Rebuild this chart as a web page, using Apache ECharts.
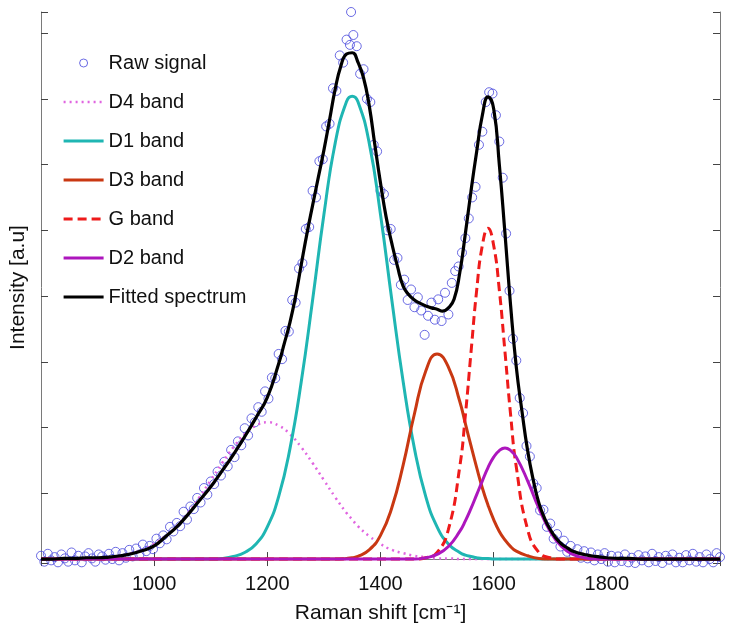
<!DOCTYPE html>
<html>
<head>
<meta charset="utf-8">
<title>Raman spectrum fit</title>
<script src="https://cdn.jsdelivr.net/npm/echarts/dist/echarts.min.js"></script>
<style>
  html, body { margin: 0; padding: 0; background: #fff; }
  #chart { width: 731px; height: 630px; }
</style>
</head>
<body>
<div id="chart"></div>
<script>
// band components (finer grid round the peaks)
var shift = [800, 820, 840, 860, 880, 900, 920, 940, 960, 980,
    1000, 1020, 1040, 1060, 1080, 1100, 1120, 1140, 1160, 1180,
    1200, 1220, 1240, 1260, 1280, 1300, 1320, 1340, 1350, 1360,
    1380, 1400, 1420, 1440, 1460, 1480, 1500, 1520, 1540, 1550,
    1560, 1570, 1580, 1590, 1600, 1610, 1620, 1630, 1640, 1660,
    1680, 1700, 1720, 1740, 1760, 1780, 1800, 1820, 1840, 1860,
    1880, 1900, 1920, 1940, 1960, 1980, 2000];

var d4Band = [0, 0, 0, 0, 0.01, 0.01, 0.03, 0.05, 0.09, 0.14,
    0.23, 0.35, 0.50, 0.70, 0.94, 1.20, 1.46, 1.70, 1.90, 2.03,
    2.08, 2.03, 1.90, 1.70, 1.46, 1.20, 0.94, 0.70, 0.60, 0.50,
    0.35, 0.23, 0.14, 0.09, 0.05, 0.03, 0.01, 0.01, 0, 0,
    0, 0, 0, 0, 0, 0, 0, 0, 0, 0,
    0, 0, 0, 0, 0, 0, 0, 0, 0, 0,
    0, 0, 0, 0, 0, 0, 0];

var d1Band = [0, 0, 0, 0, 0, 0, 0, 0, 0, 0,
    0, 0, 0, 0, 0, 0, 0.01, 0.04, 0.10, 0.23,
    0.49, 0.95, 1.68, 2.70, 3.94, 5.24, 6.33, 6.96, 7.04, 6.96,
    6.33, 5.24, 3.94, 2.70, 1.68, 0.95, 0.49, 0.23, 0.10, 0.06,
    0.04, 0.02, 0.01, 0.01, 0, 0, 0, 0, 0, 0,
    0, 0, 0, 0, 0, 0, 0, 0, 0, 0,
    0, 0, 0, 0, 0, 0, 0];

var d3Band = [0, 0, 0, 0, 0, 0, 0, 0, 0, 0,
    0, 0, 0, 0, 0, 0, 0, 0, 0, 0,
    0, 0, 0, 0, 0, 0, 0, 0.01, 0.02, 0.04,
    0.14, 0.36, 0.78, 1.43, 2.21, 2.86, 3.12, 2.92, 2.40, 2.06,
    1.72, 1.39, 1.08, 0.82, 0.60, 0.42, 0.29, 0.19, 0.12, 0.05,
    0.01, 0, 0, 0, 0, 0, 0, 0, 0, 0,
    0, 0, 0, 0, 0, 0, 0];

var gBand = [0, 0, 0, 0, 0, 0, 0, 0, 0, 0,
    0, 0, 0, 0, 0, 0, 0, 0, 0, 0,
    0, 0, 0, 0, 0, 0, 0, 0, 0, 0,
    0, 0, 0, 0, 0, 0.02, 0.10, 0.45, 1.40, 2.19,
    3.15, 4.09, 4.77, 5.03, 4.77, 4.09, 3.15, 2.19, 1.40, 0.45,
    0.10, 0.02, 0, 0, 0, 0, 0, 0, 0, 0,
    0, 0, 0, 0, 0, 0, 0];

var d2Band = [0, 0, 0, 0, 0, 0, 0, 0, 0, 0,
    0, 0, 0, 0, 0, 0, 0, 0, 0, 0,
    0, 0, 0, 0, 0, 0, 0, 0, 0, 0,
    0, 0, 0, 0, 0, 0.02, 0.07, 0.19, 0.42, 0.58,
    0.77, 0.98, 1.19, 1.39, 1.55, 1.65, 1.69, 1.65, 1.55, 1.19,
    0.77, 0.42, 0.19, 0.07, 0.02, 0, 0, 0, 0, 0,
    0, 0, 0, 0, 0, 0, 0];

// fitted spectrum, finer around the two peaks
var fitShift = [800, 820, 840, 860, 880, 900, 920, 940, 960, 980,
    1000, 1020, 1040, 1060, 1080, 1100, 1120, 1140, 1160, 1180,
    1200, 1220, 1230, 1240, 1250, 1260, 1270, 1280, 1290, 1300,
    1310, 1320, 1330, 1340, 1350, 1360, 1370, 1380, 1390, 1400,
    1410, 1420, 1430, 1440, 1450, 1460, 1470, 1480, 1490, 1500,
    1510, 1520, 1530, 1540, 1550, 1560, 1570, 1580, 1590, 1600,
    1610, 1620, 1630, 1640, 1650, 1660, 1670, 1680, 1690, 1700,
    1710, 1720, 1730, 1740, 1760, 1780, 1800, 1820, 1840, 1860,
    1900, 1950, 2000];
var fitInt = [0, 0, 0.01, 0.01, 0.02, 0.02, 0.03, 0.05, 0.08, 0.13,
    0.20, 0.34, 0.49, 0.68, 0.89, 1.10, 1.34, 1.59, 1.86, 2.15,
    2.46, 2.97, 3.28, 3.60, 4.00, 4.48, 4.95, 5.38, 5.80, 6.22,
    6.68, 7.15, 7.50, 7.68, 7.70, 7.56, 7.32, 6.90, 6.30, 5.72,
    5.20, 4.80, 4.45, 4.15, 4.02, 3.94, 3.89, 3.85, 3.82, 3.80,
    3.77, 3.82, 3.95, 4.35, 4.95, 5.60, 6.20, 6.75, 7.03, 6.85,
    6.00, 4.95, 3.85, 2.92, 2.25, 1.65, 1.20, 0.85, 0.62, 0.45,
    0.32, 0.23, 0.17, 0.12, 0.07, 0.04, 0.02, 0.01, 0.01, 0,
    0, 0, 0];

// raw signal points
var rawShift = [800, 806, 812, 818, 824, 830, 836, 842, 848, 854,
    860, 866, 872, 878, 884, 890, 896, 902, 908, 914,
    920, 926, 932, 938, 944, 950, 956, 962, 968, 974,
    980, 986, 992, 998, 1004, 1010, 1016, 1022, 1028, 1034,
    1040, 1046, 1052, 1058, 1064, 1070, 1076, 1082, 1088, 1094,
    1100, 1106, 1112, 1118, 1124, 1130, 1136, 1142, 1148, 1154,
    1160, 1166, 1172, 1178, 1184, 1190, 1196, 1202, 1208, 1214,
    1220, 1226, 1232, 1238, 1244, 1250, 1256, 1262, 1268, 1274,
    1280, 1286, 1292, 1298, 1304, 1310, 1316, 1322, 1328, 1334,
    1340, 1346, 1348, 1352, 1358, 1364, 1370, 1376, 1382, 1388,
    1394, 1400, 1406, 1412, 1418, 1424, 1430, 1436, 1442, 1448,
    1454, 1460, 1466, 1472, 1478, 1484, 1490, 1496, 1502, 1508,
    1514, 1520, 1526, 1532, 1538, 1544, 1550, 1556, 1562, 1568,
    1574, 1580, 1586, 1592, 1598, 1604, 1610, 1616, 1622, 1628,
    1634, 1640, 1646, 1652, 1658, 1664, 1670, 1676, 1682, 1688,
    1694, 1700, 1706, 1712, 1718, 1724, 1730, 1736, 1742, 1748,
    1754, 1760, 1766, 1772, 1778, 1784, 1790, 1796, 1802, 1808,
    1814, 1820, 1826, 1832, 1838, 1844, 1850, 1856, 1862, 1868,
    1874, 1880, 1886, 1892, 1898, 1904, 1910, 1916, 1922, 1928,
    1934, 1940, 1946, 1952, 1958, 1964, 1970, 1976, 1982, 1988,
    1994, 2000];
var rawInt = [0.05, -0.04, 0.08, -0.02, 0.03, -0.05, 0.07, 0.01, -0.04, 0.10,
    -0.02, 0.05, -0.05, 0.04, 0.09, 0.01, -0.04, 0.07, 0.04, -0.01,
    0.08, 0.00, 0.11, -0.02, 0.09, 0.02, 0.14, 0.04, 0.16, 0.07,
    0.22, 0.12, 0.20, 0.15, 0.31, 0.24, 0.36, 0.30, 0.49, 0.42,
    0.55, 0.50, 0.72, 0.60, 0.80, 0.76, 0.93, 0.86, 1.08, 0.98,
    1.18, 1.14, 1.33, 1.27, 1.48, 1.41, 1.66, 1.55, 1.79, 1.73,
    1.99, 1.88, 2.14, 2.08, 2.31, 2.24, 2.55, 2.44, 2.76, 2.75,
    3.12, 3.04, 3.47, 3.46, 3.94, 3.90, 4.42, 4.50, 5.02, 5.05,
    5.60, 5.50, 6.05, 6.08, 6.58, 6.62, 7.16, 7.12, 7.66, 7.55,
    7.90, 7.82, 8.32, 7.97, 7.80, 7.38, 7.45, 7.00, 6.95, 6.30,
    6.20, 5.60, 5.55, 5.00, 5.02, 4.55, 4.58, 4.17, 4.25, 3.94,
    4.10, 3.83, 3.98, 3.78, 3.41, 3.70, 3.90, 3.64, 3.95, 3.62,
    4.05, 3.72, 4.20, 4.38, 4.45, 4.66, 4.88, 5.18, 5.50, 5.66,
    6.30, 6.50, 6.95, 7.10, 7.08, 6.75, 6.35, 5.80, 4.95, 4.08,
    3.35, 3.02, 2.45, 2.22, 1.72, 1.56, 1.15, 1.08, 0.74, 0.75,
    0.49, 0.54, 0.31, 0.38, 0.19, 0.28, 0.11, 0.20, 0.06, 0.15,
    0.02, 0.12, 0.01, 0.10, -0.02, 0.07, 0.00, 0.09, -0.04, 0.05,
    -0.05, 0.04, -0.03, 0.07, -0.05, 0.02, -0.06, 0.06, -0.02, 0.04,
    -0.05, 0.08, -0.03, 0.03, -0.06, 0.05, -0.01, 0.07, -0.05, 0.02,
    -0.05, 0.06, -0.02, 0.08, -0.04, 0.03, -0.05, 0.07, 0.00, -0.05,
    0.09, 0.03];

function pairs(xs, ys) {
    var out = [];
    for (var i = 0; i < xs.length; i++) {
        out.push([xs[i], ys[i]]);
    }
    return out;
}

var font = "'Liberation Sans', Arial, Helvetica, sans-serif";
var frameColor = '#7a7a7a';

function bandSeries(name, values, color, width, type) {
    return {
        name: name,
        type: 'line',
        data: pairs(shift, values),
        smooth: 0.5,
        symbol: 'none',
        lineStyle: { color: color, width: width, type: type },
        // opacity 0 only hides the legend marker dot, the line keeps lineStyle
        itemStyle: { color: color, opacity: 0 },
        silent: true
    };
}

var chart = echarts.init(document.getElementById('chart'));
var option = {
    animation: false,
    backgroundColor: '#fff',
    grid: { left: 40, right: 11, top: 12, bottom: 67 },
    legend: {
        orient: 'vertical',
        left: 57,
        top: 48,
        itemWidth: 40,
        itemHeight: 8,
        itemGap: 19,
        lineStyle: { width: 'inherit' },
        itemStyle: { borderWidth: 'inherit' },
        textStyle: { fontFamily: font, fontSize: 20, color: '#111', lineHeight: 20 },
        data: ['Raw signal', 'D4 band', 'D1 band', 'D3 band', 'G band', 'D2 band', 'Fitted spectrum']
    },
    xAxis: [{
        type: 'value',
        min: 800,
        max: 2000,
        interval: 200,
        name: 'Raman shift [cm\u207b\u00b9]',
        nameLocation: 'middle',
        nameGap: 40,
        nameTextStyle: { fontFamily: font, fontSize: 21, color: '#111' },
        axisLine: { lineStyle: { color: frameColor, width: 1 } },
        axisTick: { inside: true, length: 7, lineStyle: { color: '#444' } },
        axisLabel: {
            fontFamily: font, fontSize: 20, color: '#111', margin: 11,
            showMinLabel: false, showMaxLabel: false,
            formatter: function (v) { return String(v); }
        },
        splitLine: { show: false }
    }, {
        type: 'value',
        position: 'top',
        min: 800,
        max: 2000,
        interval: 200,
        axisLine: { lineStyle: { color: frameColor, width: 1 } },
        axisTick: { inside: true, length: 7, lineStyle: { color: '#444' } },
        axisLabel: { show: false },
        splitLine: { show: false }
    }],
    yAxis: [{
        type: 'value',
        min: -0.06,
        max: 8.32,
        splitNumber: 8,
        name: 'Intensity [a.u]',
        nameLocation: 'middle',
        nameGap: 12,
        nameTextStyle: { fontFamily: font, fontSize: 21, color: '#111' },
        axisLine: { show: true, lineStyle: { color: frameColor, width: 1 } },
        axisTick: { show: true, inside: true, length: 7, lineStyle: { color: '#444' } },
        axisLabel: { show: false },
        splitLine: { show: false }
    }, {
        type: 'value',
        position: 'right',
        min: -0.06,
        max: 8.32,
        splitNumber: 8,
        axisLine: { show: true, lineStyle: { color: frameColor, width: 1 } },
        axisTick: { show: true, inside: true, length: 7, lineStyle: { color: '#444' } },
        axisLabel: { show: false },
        splitLine: { show: false }
    }],
    series: [
        {
            name: 'Raw signal',
            type: 'scatter',
            data: pairs(rawShift, rawInt),
            symbol: 'circle',
            symbolSize: 9,
            clip: false,
            itemStyle: { color: 'rgba(255,255,255,0)', borderColor: '#4646dc', borderWidth: 1 },
            silent: true
        },
        bandSeries('D4 band', d4Band, '#e064e0', 2.5, [2, 4]),
        bandSeries('D1 band', d1Band, '#1fb6b3', 3, 'solid'),
        bandSeries('D3 band', d3Band, '#c93812', 3, 'solid'),
        bandSeries('G band', gBand, '#ee1a1a', 3, [9, 5]),
        bandSeries('D2 band', d2Band, '#ad16bd', 3, 'solid'),
        {
            name: 'Fitted spectrum',
            type: 'line',
            data: pairs(fitShift, fitInt),
            smooth: 0.5,
            symbol: 'none',
            lineStyle: { color: '#000', width: 3.2 },
            itemStyle: { color: '#000', opacity: 0 },
            silent: true
        }
    ]
};
chart.setOption(option);
</script>
</body>
</html>
